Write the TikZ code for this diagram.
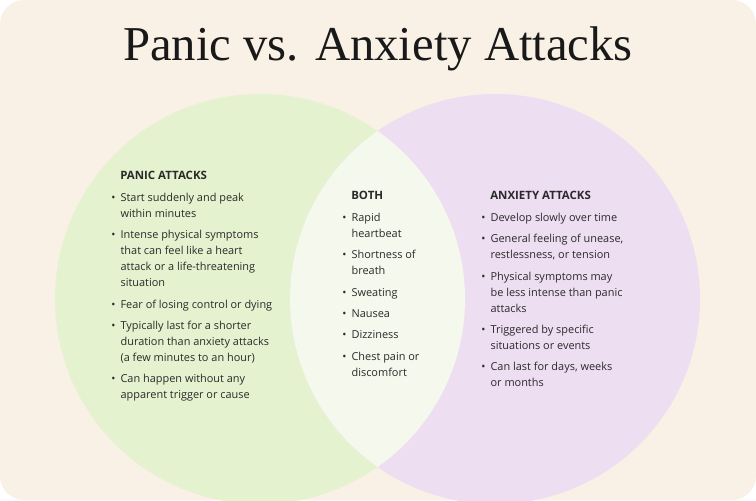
\documentclass[tikz,border=0pt]{standalone}
\usepackage{fontspec}
\setmainfont{Liberation Serif}
\newfontfamily\bodyfont{Open Sans}
\definecolor{bgbeige}{HTML}{F9F0E6}
\definecolor{panicgreen}{HTML}{E5F2CF}
\definecolor{anxietylilac}{HTML}{EEDEF2}
\definecolor{bothpale}{HTML}{F5F8EC}
\definecolor{inktext}{HTML}{2A2A2A}
\newcommand\bl[1]{\makebox[7pt][l]{\textbullet}#1}
\newcommand\ct[1]{\hspace*{7pt}#1}
\tikzset{%
  column text/.style={anchor=north west,align=left,inner sep=0pt,
    text=inktext,font=\bodyfont\fontsize{8.2}{12}\selectfont},
  column head/.style={anchor=north west,inner sep=0pt,text=inktext,
    font=\bodyfont\bfseries\fontsize{8.6}{10}\selectfont}
}
\begin{document}
\begin{tikzpicture}[x=0.75pt,y=-0.75pt]
\useasboundingbox (0,0) rectangle (756,500);
\fill[bgbeige,rounded corners=18pt] (0,0) rectangle (756,500);
% circles
\fill[panicgreen] (260,299) circle (205);
\fill[anxietylilac] (495,299) circle (205);
\begin{scope}
  \clip (260,299) circle (205);
  \fill[bothpale] (495,299) circle (205);
\end{scope}
\node[text=black!90,font=\fontsize{36.5}{40}\selectfont,inner sep=0pt] (title) at (378,49) {Panic vs. Anxiety Attacks};
% panic column
\node[column head] (panichead) at (120,171) {PANIC ATTACKS};
\node[column text] (panictext) at (111,193) {%
\bl{Start suddenly and peak}\\ \ct{within minutes}\\[4pt]
\bl{Intense physical symptoms}\\ \ct{that can feel like a heart}\\ \ct{attack or a life-threatening}\\ \ct{situation}\\[4pt]
\bl{Fear of losing control or dying}\\[4pt]
\bl{Typically last for a shorter}\\ \ct{duration than anxiety attacks}\\ \ct{(a few minutes to an hour)}\\[4pt]
\bl{Can happen without any}\\ \ct{apparent trigger or cause}};
% both column
\node[column head] (bothhead) at (351,191) {BOTH};
\node[column text] (bothtext) at (342,213) {%
\bl{Rapid}\\ \ct{heartbeat}\\[4pt]
\bl{Shortness of}\\ \ct{breath}\\[4pt]
\bl{Sweating}\\[4pt]
\bl{Nausea}\\[4pt]
\bl{Dizziness}\\[4pt]
\bl{Chest pain or}\\ \ct{discomfort}};
% anxiety column
\node[column head] (anxhead) at (490,191) {ANXIETY ATTACKS};
\node[column text] (anxtext) at (481,213) {%
\bl{Develop slowly over time}\\[4pt]
\bl{General feeling of unease,}\\ \ct{restlessness, or tension}\\[4pt]
\bl{Physical symptoms may}\\ \ct{be less intense than panic}\\ \ct{attacks}\\[4pt]
\bl{Triggered by specific}\\ \ct{situations or events}\\[4pt]
\bl{Can last for days, weeks}\\ \ct{or months}};
\end{tikzpicture}
\end{document}
